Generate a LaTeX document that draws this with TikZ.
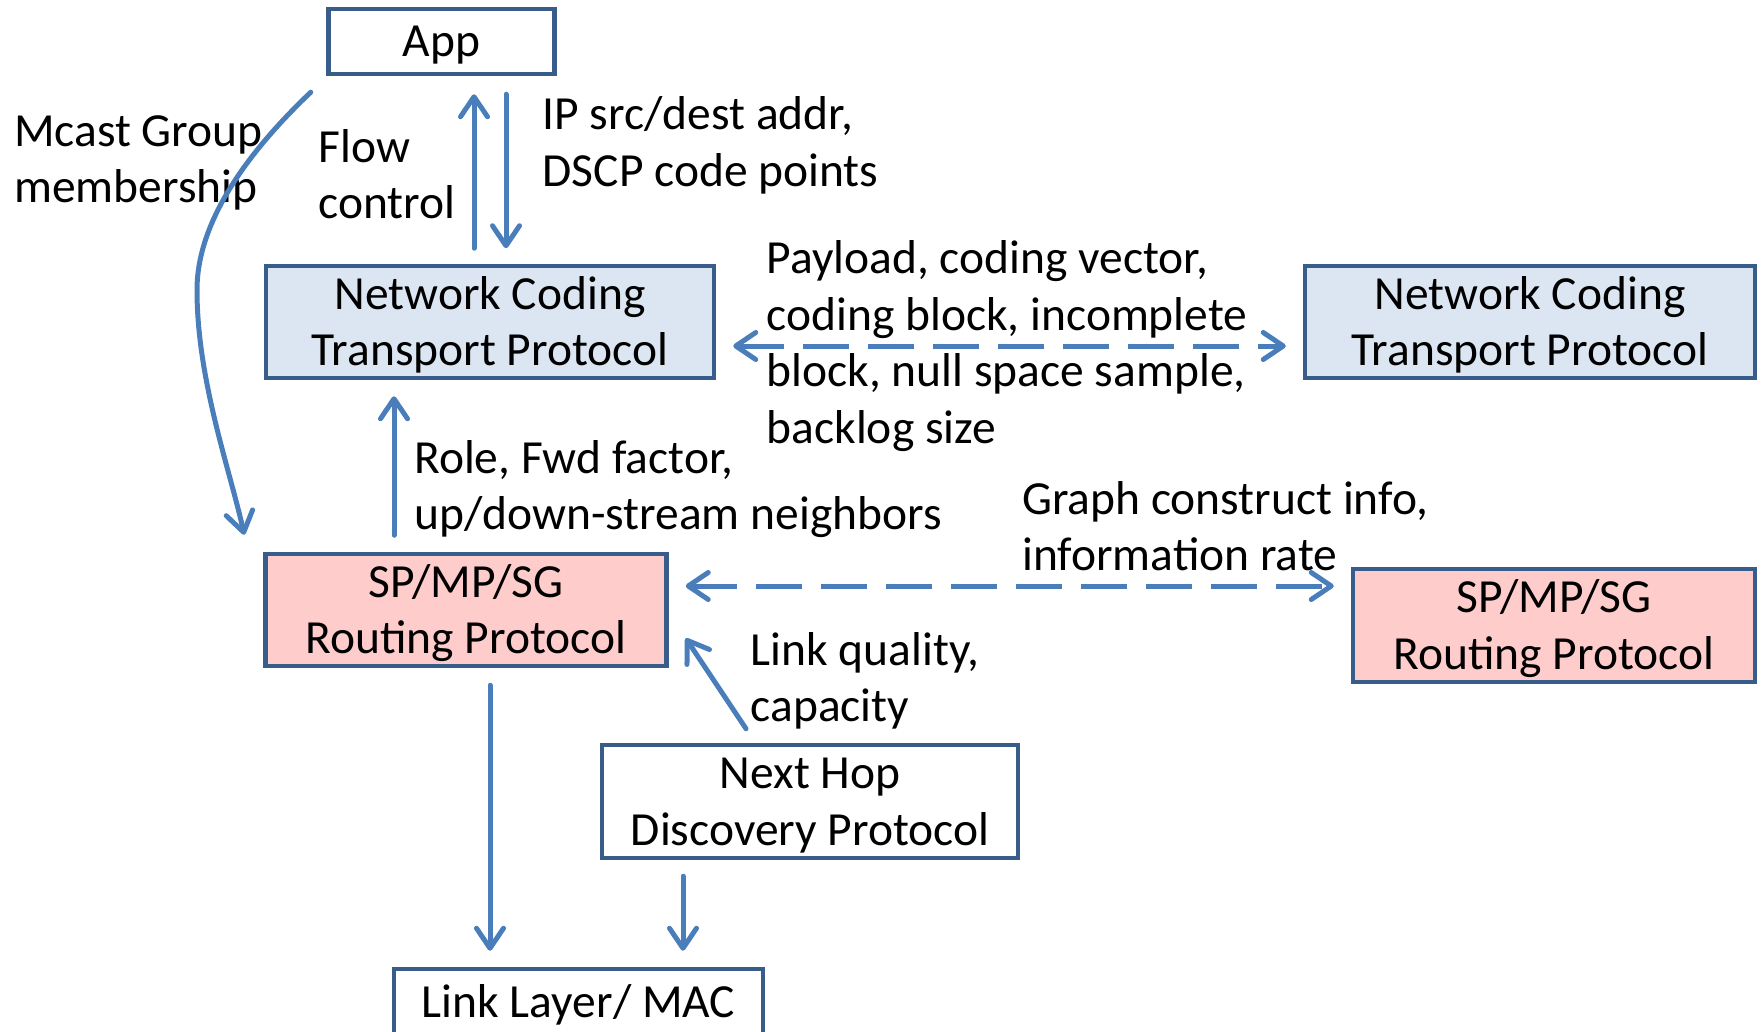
\documentclass[tikz,border=0pt]{standalone}
\usepackage{fontspec}
\setmainfont{Carlito}
\usetikzlibrary{arrows.meta,calc}
\definecolor{arrowblue}{RGB}{74,126,187}
\definecolor{boxline}{RGB}{56,93,138}
\definecolor{ncfill}{RGB}{220,230,242}
\definecolor{spfill}{RGB}{255,204,204}
\newcommand\topstrut{\rule{0pt}{43pt}}
\newcommand\botstrut{\rule[-12.5pt]{0pt}{0pt}}
\begin{document}
\begin{tikzpicture}[x=1pt,y=-1pt,
  every node/.style={font=\fontsize{47.5}{56.5}\selectfont, inner sep=0pt},
  box/.style={draw=boxline, line width=4.5pt, align=center, fill=white},
  ncbox/.style={box, fill=ncfill},
  spbox/.style={box, fill=spfill},
  lbl/.style={anchor=west, align=left},
  arr/.style={draw=arrowblue, line width=5pt, line cap=round, -{Straight Barb[length=20pt,width=27pt,round]}},
  dasharr/.style={draw=arrowblue, line width=5pt, dash pattern=on 46pt off 19pt,
     {Straight Barb[length=20pt,width=27pt,round]}-{Straight Barb[length=20pt,width=27pt,round]}}
]
\useasboundingbox (0,0) rectangle (1764,1032);

% boxes
\node[box, minimum width=226pt, minimum height=65pt] (app) at (441.5,41.5) {\topstrut App\botstrut};
\node[ncbox, minimum width=448pt, minimum height=112pt] (ncl) at (490,322) {\topstrut Network Coding\\Transport Protocol\botstrut};
\node[ncbox, minimum width=450pt, minimum height=112pt] (ncr) at (1530,322) {\topstrut Network Coding\\Transport Protocol\botstrut};
\node[spbox, minimum width=401pt, minimum height=112pt] (spl) at (466,610) {\topstrut SP/MP/SG\\Routing Protocol\botstrut};
\node[spbox, minimum width=402pt, minimum height=113pt] (spr) at (1554,625.5) {\topstrut SP/MP/SG\\Routing Protocol\botstrut};
\node[box, minimum width=416pt, minimum height=113pt] (nh) at (810,801.5) {\topstrut Next Hop\\Discovery Protocol\botstrut};
\node[box, minimum width=369pt, minimum height=67pt] (ll) at (578.5,1002.5) {\topstrut Link Layer/ MAC\botstrut};

% labels
\node[lbl] (lmcast) at (14,163) {Mcast Group\\membership};
\node[lbl] (lflow) at (318.5,174) {Flow\\control};
\node[lbl] (lip) at (542.5,145.5) {IP src/dest addr,\\DSCP code points};
\node[lbl] (lpay) at (766.5,346) {Payload, coding vector,\\coding block, incomplete\\block, null space sample,\\backlog size};
\node[lbl] (lrole) at (414,489) {Role, Fwd factor,\\up/down-stream neighbors};
\node[lbl] (lgraph) at (1022,526) {Graph construct info,\\information rate};
\node[lbl] (llink) at (750.5,681) {Link quality,\\capacity};

% connectors
\draw[arr] ($(ncl.north)+(-16,-15.5)$) -- ($(app.south)+(32.5,18)$);
\draw[arr] ($(app.south)+(64.5,18)$) -- ($(ncl.north)+(16,-15.5)$);
\draw[arr] ($(app.south west)+(-15.5,16)$) .. controls (250,150) and (197,220) .. (197,290)
   .. controls (197,380) and (230,470) .. ($(spl.north west)+(-19,-17)$);
\draw[arr] ($(spl.north)+(-72,-16.5)$) -- ($(ncl.south)+(-96,16)$);
\draw[dasharr] ($(ncl.east)+(17,24)$) -- ($(ncr.west)+(-17,24)$);
\draw[dasharr] ($(spl.east)+(17,-24)$) -- ($(spr.west)+(-17,-39.5)$);
\draw[arr] ($(nh.north)+(-64,-14)$) -- ($(spl.south east)+(17,-30)$);
\draw[arr] ($(spl.south)+(24,17)$) -- ($(ll.north)+(-88.5,-16)$);
\draw[arr] ($(nh.south)+(-127,16)$) -- ($(ll.north)+(104.5,-16)$);
\end{tikzpicture}
\end{document}
